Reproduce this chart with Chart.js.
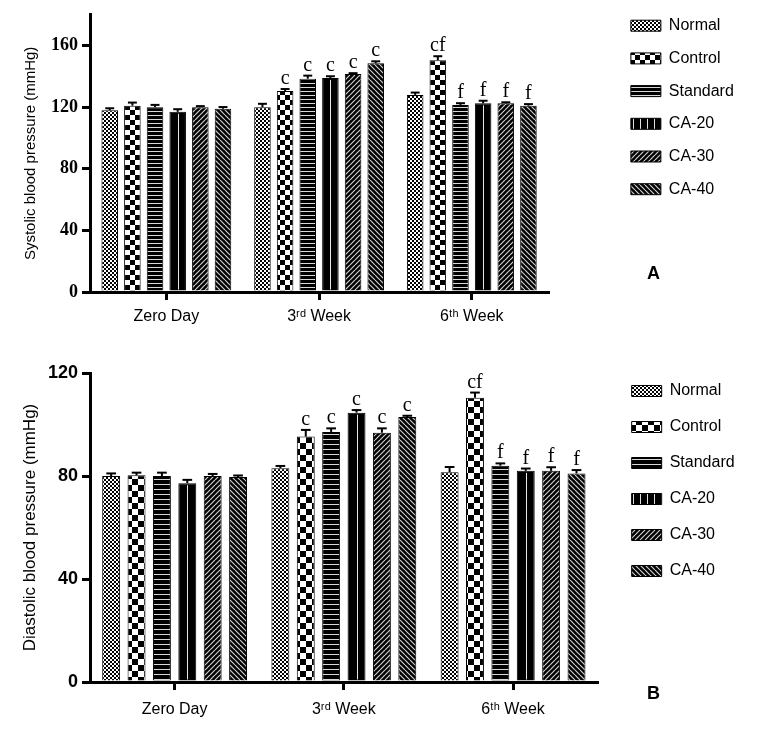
<!DOCTYPE html>
<html><head><meta charset="utf-8">
<script src="https://cdn.jsdelivr.net/npm/chart.js@4.4.1/dist/chart.umd.min.js"></script>
<style>
html,body{margin:0;padding:0;background:#fff;}
#wrap{position:relative;width:757px;height:732px;overflow:hidden;background:#fff;}
#c1{position:absolute;left:0;top:0;}
#c2{position:absolute;left:0;top:335px;}
.panel{position:absolute;font:bold 18px "Liberation Sans",Arial,sans-serif;line-height:18px;color:#000;}
</style></head><body>
<div id="wrap">
<canvas id="c1" width="757" height="335"></canvas>
<canvas id="c2" width="757" height="397"></canvas>
<div class="panel" style="left:647px;top:264px">A</div>
<div class="panel" style="left:647px;top:684px">B</div>
</div>
<script>
// ---------- data ----------
const categories = ['Zero Day', '3ʳᵈ Week', '6ᵗʰ Week'];
const groups = ['Normal', 'Control', 'Standard', 'CA-20', 'CA-30', 'CA-40'];

// Systolic blood pressure (mmHg)
const sysNormal   = [118, 120, 128];
const sysControl  = [121, 130.5, 150.5];
const sysStandard = [120, 138.5, 121.5];
const sysCA20     = [117, 139, 122.5];
const sysCA30     = [120, 141.5, 122.5];
const sysCA40     = [119, 148.5, 121];
const sysErrNormal   = [1.3, 2.2, 1.5];
const sysErrControl  = [2, 1.3, 2.6];
const sysErrStandard = [1.5, 2, 1.1];
const sysErrCA20     = [1.7, 1.1, 1.7];
const sysErrCA30     = [0.7, 0.6, 0.7];
const sysErrCA40     = [1.1, 1.3, 1];

// Diastolic blood pressure (mmHg)
const diaNormal   = [80, 83, 81.5];
const diaControl  = [80.3, 95.3, 110.4];
const diaStandard = [80, 97.1, 84];
const diaCA20     = [77.2, 104.6, 82];
const diaCA30     = [80, 96.8, 82];
const diaCA40     = [79.6, 102.9, 81];
const diaErrNormal   = [1, 0.9, 2];
const diaErrControl  = [1, 2.6, 2];
const diaErrStandard = [1.3, 1.4, 0.9];
const diaErrCA20     = [1.3, 1, 0.9];
const diaErrCA30     = [0.8, 1.7, 1.4];
const diaErrCA40     = [0.6, 0.5, 1.3];

// significance letters
const letNormal   = ['', '', ''];
const letControl  = ['', 'c', 'cf'];
const letStandard = ['', 'c', 'f'];
const letCA20     = ['', 'c', 'f'];
const letCA30     = ['', 'c', 'f'];
const letCA40     = ['', 'c', 'f'];

const sysTicks = [0, 40, 80, 120, 160];
const diaTicks = [0, 40, 80, 120];

// ---------- patterns ----------
function tile(ctx, w, h, draw) {
  const c = document.createElement('canvas'); c.width = w; c.height = h;
  const g = c.getContext('2d'); draw(g, w, h);
  return ctx.createPattern(c, 'repeat');
}
function checker(ctx, cell) {
  return tile(ctx, cell * 2, cell * 2, (g) => {
    g.fillStyle = '#fff'; g.fillRect(0, 0, cell * 2, cell * 2);
    g.fillStyle = '#000'; g.fillRect(0, 0, cell, cell); g.fillRect(cell, cell, cell, cell);
  });
}
function hlines(ctx, period) {
  return tile(ctx, 4, period, (g) => {
    g.fillStyle = '#000'; g.fillRect(0, 0, 4, period);
    g.fillStyle = '#d8d8d8'; g.fillRect(0, period - 1, 4, 1);
  });
}
function vlines(ctx, period) {
  return tile(ctx, period, 4, (g) => {
    g.fillStyle = '#000'; g.fillRect(0, 0, period, 4);
    g.fillStyle = '#e0e0e0'; g.fillRect(Math.floor(period / 2), 0, 1, 4);
  });
}
function diag(ctx, s, rising) {
  return tile(ctx, s, s, (g) => {
    g.fillStyle = '#000'; g.fillRect(0, 0, s, s);
    g.strokeStyle = '#cfcfcf'; g.lineWidth = 1.2;
    for (const x0 of [-s, 0, s]) {
      g.beginPath();
      if (rising) { g.moveTo(x0, s); g.lineTo(x0 + s, 0); }
      else { g.moveTo(x0, 0); g.lineTo(x0 + s, s); }
      g.stroke();
    }
  });
}

function buildPatterns(ctx, big) {
  return {
    fills: [
      checker(ctx, 2),
      checker(ctx, big ? 6 : 5),
      hlines(ctx, big ? 5 : 4),
      '#000',
      diag(ctx, 5, true),
      diag(ctx, 5, false)
    ],
    ca20Legend: vlines(ctx, 7)
  };
}

// ---------- plugins ----------
function errPlugin(errs, letters, letterFont) {
  return {
    id: 'errbars',
    afterDatasetsDraw(chart) {
      const ctx = chart.ctx, ys = chart.scales.y;
      ctx.save();
      // CA-20 central white line
      const m3 = chart.getDatasetMeta(3);
      m3.data.forEach((bar) => {
        ctx.strokeStyle = '#e8e8e8'; ctx.lineWidth = 1;
        ctx.beginPath(); ctx.moveTo(Math.round(bar.x) + 0.5, bar.base - 1); ctx.lineTo(Math.round(bar.x) + 0.5, bar.y + 2); ctx.stroke();
      });
      chart.data.datasets.forEach((ds, di) => {
        const meta = chart.getDatasetMeta(di);
        meta.data.forEach((bar, j) => {
          const v = ds.data[j], e = errs[di][j];
          const yt = ys.getPixelForValue(v + e);
          const hw = bar.width * 0.27;
          ctx.strokeStyle = '#000'; ctx.lineWidth = 2;
          ctx.beginPath(); ctx.moveTo(bar.x, bar.y); ctx.lineTo(bar.x, yt); ctx.stroke();
          ctx.beginPath(); ctx.moveTo(bar.x - hw, yt); ctx.lineTo(bar.x + hw, yt); ctx.stroke();
          const t = letters[di][j];
          if (t) {
            ctx.fillStyle = '#000'; ctx.font = letterFont;
            ctx.textAlign = 'center'; ctx.textBaseline = 'alphabetic';
            ctx.fillText(t, bar.x, yt - 5);
          }
        });
      });
      ctx.restore();
    }
  };
}

function makeChart(canvasId, cfg) {
  const ctx = document.getElementById(canvasId).getContext('2d');
  const pats = buildPatterns(ctx, cfg.big);
  const datasets = cfg.series.map((d, i) => ({
    label: groups[i], data: d,
    backgroundColor: pats.fills[i], borderColor: '#000', borderWidth: 1,
    categoryPercentage: cfg.catPct, barPercentage: cfg.barPct
  }));
  return new Chart(ctx, {
    type: 'bar',
    data: { labels: categories, datasets },
    options: {
      responsive: false, animation: false, events: [],
      layout: { padding: { top: cfg.padTop, left: 0, right: cfg.padRight, bottom: 0 } },
      plugins: {
        tooltip: { enabled: false },
        title: { display: true, text: '', fullSize: false, padding: 0, font: { size: cfg.titleGap, lineHeight: 1 } },
        legend: {
          position: 'right', align: 'start',
          labels: {
            font: { family: 'Liberation Sans', size: 16 }, color: '#000',
            boxWidth: 30, boxHeight: 11, padding: cfg.legendPad,
            generateLabels(chart) {
              const items = Chart.defaults.plugins.legend.labels.generateLabels(chart);
              items[3].fillStyle = pats.ca20Legend;
              return items;
            }
          }
        }
      },
      scales: {
        x: {
          grid: { display: true, drawOnChartArea: false, drawTicks: true, tickLength: 8, lineWidth: 3, color: '#000', offset: false },
          border: { display: true, width: 3, color: '#000' },
          ticks: { font: { family: 'Liberation Sans', size: 16 }, color: '#000', padding: cfg.xPad, maxRotation: 0, autoSkip: false },
          afterFit(s) { s.height = cfg.xHeight; }
        },
        y: {
          min: 0, max: cfg.max,
          afterBuildTicks(s) { s.ticks = cfg.ticks.map(v => ({ value: v })); },
          ticks: { font: cfg.tickFont, color: '#000', padding: 4 },
          grid: { display: true, drawOnChartArea: false, drawTicks: true, tickLength: 8, lineWidth: 3, color: '#000' },
          border: { display: true, width: 3, color: '#000' },
          title: { display: true, text: cfg.yTitle, font: { family: 'Liberation Sans', size: cfg.yTitleSize }, color: '#000', padding: { top: cfg.yTitlePad, bottom: 0 } },
          afterFit(s) { s.width = 90; }
        },
        y2: {
          position: 'right', display: true,
          grid: { display: false }, border: { display: false }, ticks: { display: false },
          afterFit(s) { s.width = cfg.gap; }
        }
      }
    },
    plugins: [errPlugin(cfg.errs, cfg.letters, cfg.letterFont)]
  });
}

const letters = [letNormal, letControl, letStandard, letCA20, letCA30, letCA40];

makeChart('c1', {
  big: false,
  series: [sysNormal, sysControl, sysStandard, sysCA20, sysCA30, sysCA40],
  errs: [sysErrNormal, sysErrControl, sysErrStandard, sysErrCA20, sysErrCA30, sysErrCA40],
  letters,
  catPct: 0.89, barPct: 0.73,
  padTop: 1, titleGap: 12, padRight: 20, legendPad: 16.7,
  xPad: 7, xHeight: 43,
  max: 180, ticks: sysTicks,
  tickFont: { family: 'Liberation Serif', size: 18, weight: 'bold' },
  yTitle: 'Systolic blood pressure (mmHg)', yTitleSize: 15, yTitlePad: 22,
  gap: 66,
  letterFont: '20px "Liberation Serif"'
});

makeChart('c2', {
  big: true,
  series: [diaNormal, diaControl, diaStandard, diaCA20, diaCA30, diaCA40],
  errs: [diaErrNormal, diaErrControl, diaErrStandard, diaErrCA20, diaErrCA30, diaErrCA40],
  letters,
  catPct: 0.9, barPct: 0.706,
  padTop: 28, titleGap: 10, padRight: 23, legendPad: 20,
  xPad: 10, xHeight: 50,
  max: 120, ticks: diaTicks,
  tickFont: { family: 'Liberation Sans', size: 18, weight: 'bold' },
  yTitle: 'Diastolic blood pressure (mmHg)', yTitleSize: 17, yTitlePad: 20,
  gap: 14,
  letterFont: '20px "Liberation Serif"'
});
</script>
</body></html>
